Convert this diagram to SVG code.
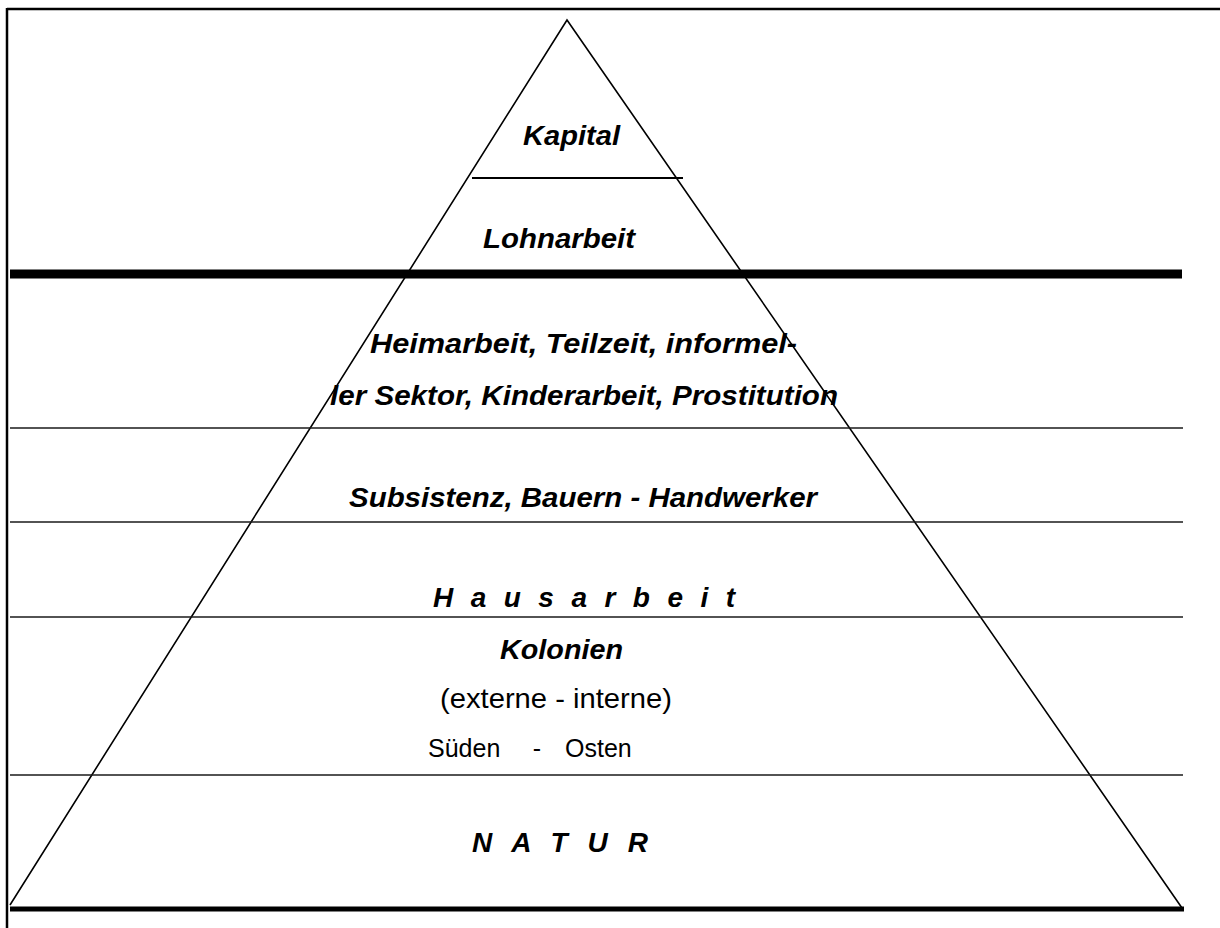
<svg xmlns="http://www.w3.org/2000/svg" width="1220" height="928" viewBox="0 0 1220 928">
<style>
.bi{font-family:"Liberation Sans",Arial,sans-serif;font-weight:bold;font-style:italic;font-size:28px;fill:#000}
.rg{font-family:"Liberation Sans",Arial,sans-serif;font-size:28px;fill:#000}
.sm{font-family:"Liberation Sans",Arial,sans-serif;font-size:25px;fill:#000}
.thin{stroke:#1a1a1a;stroke-width:1.3;fill:none}
</style>
<rect width="1220" height="928" fill="#fff"/>
<g id="frame">
<line x1="7" y1="9" x2="1220" y2="9" stroke="#000" stroke-width="2.5"/>
<line x1="7" y1="8" x2="7" y2="928" stroke="#000" stroke-width="2.5"/>
</g>
<g id="pyramid">
<polyline points="10,905 567,20 1182,908" fill="none" stroke="#000" stroke-width="1.6"/>
</g>
<g id="connectors">
<line x1="472" y1="178" x2="683" y2="178" stroke="#000" stroke-width="2"/>
<line x1="10" y1="274" x2="1182" y2="274" stroke="#000" stroke-width="9"/>
<line class="thin" x1="10" y1="428" x2="1183" y2="428"/>
<line class="thin" x1="10" y1="522" x2="1183" y2="522"/>
<line class="thin" x1="10" y1="617" x2="1183" y2="617"/>
<line class="thin" x1="10" y1="775" x2="1183" y2="775"/>
<line x1="10" y1="909" x2="1184" y2="909" stroke="#000" stroke-width="5"/>
</g>
<g id="kapital"><text class="bi" x="523" y="145" textLength="97" lengthAdjust="spacingAndGlyphs">Kapital</text></g>
<g id="lohnarbeit"><text class="bi" x="483" y="248" textLength="152" lengthAdjust="spacingAndGlyphs">Lohnarbeit</text></g>
<g id="heimarbeit">
<text class="bi" x="370" y="353" textLength="427" lengthAdjust="spacingAndGlyphs">Heimarbeit, Teilzeit, informel-</text>
<text class="bi" x="330" y="405" textLength="508" lengthAdjust="spacingAndGlyphs">ler Sektor, Kinderarbeit, Prostitution</text>
</g>
<g id="subsistenz"><text class="bi" x="349" y="507" textLength="468" lengthAdjust="spacingAndGlyphs">Subsistenz, Bauern - Handwerker</text></g>
<g id="hausarbeit"><text class="bi" x="433" y="607" textLength="302" lengthAdjust="spacing">H a u s a r b e i t</text></g>
<g id="kolonien">
<text class="bi" x="500" y="659" textLength="123" lengthAdjust="spacingAndGlyphs">Kolonien</text>
<text class="rg" x="440" y="708" textLength="232" lengthAdjust="spacingAndGlyphs">(externe - interne)</text>
<text class="sm" x="428" y="757">Süden</text>
<text class="sm" x="537" y="757" text-anchor="middle">-</text>
<text class="sm" x="565" y="757">Osten</text>
</g>
<g id="natur"><text class="bi" x="472" y="852" textLength="176" lengthAdjust="spacing">N A T U R</text></g>
</svg>
